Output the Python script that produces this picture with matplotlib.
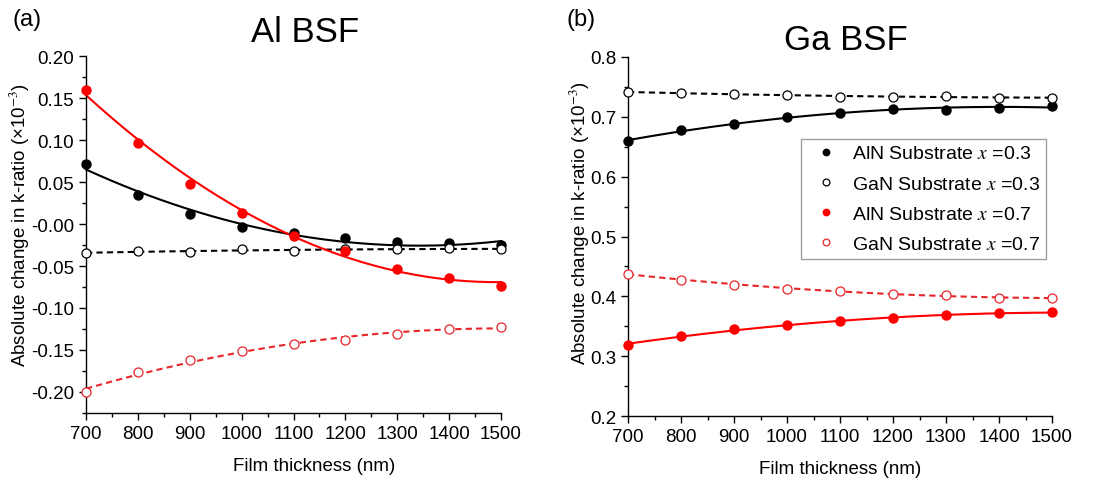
import numpy as np
import matplotlib
matplotlib.use("Agg")
import matplotlib.pyplot as plt
from matplotlib.ticker import MultipleLocator

plt.rcParams['font.family'] = ['Liberation Sans', 'DejaVu Sans']
plt.rcParams['mathtext.fontset'] = 'stix'

thickness = [700, 800, 900, 1000, 1100, 1200, 1300, 1400, 1500]

# Al BSF (panel a)
al_aln_03 = [0.071, 0.035, 0.012, -0.004, -0.011, -0.017, -0.022, -0.023, -0.025]
al_gan_03 = [-0.0345, -0.0325, -0.033, -0.030, -0.0325, -0.030, -0.030, -0.029, -0.030]
al_aln_07 = [0.160, 0.097, 0.048, 0.0135, -0.014, -0.0325, -0.054, -0.064, -0.074]
al_gan_07 = [-0.200, -0.176, -0.162, -0.151, -0.143, -0.138, -0.1305, -0.125, -0.1226]

# Ga BSF (panel b)
ga_aln_03 = [0.659, 0.678, 0.688, 0.6995, 0.7067, 0.713, 0.712, 0.715, 0.718]
ga_gan_03 = [0.741, 0.740, 0.738, 0.737, 0.7335, 0.733, 0.7345, 0.732, 0.732]
ga_aln_07 = [0.319, 0.334, 0.345, 0.352, 0.358, 0.364, 0.368, 0.372, 0.3735]
ga_gan_07 = [0.438, 0.4275, 0.419, 0.413, 0.409, 0.4035, 0.4025, 0.3975, 0.3965]

labels = [r"AlN Substrate $x$ =0.3", r"GaN Substrate $x$ =0.3",
          r"AlN Substrate $x$ =0.7", r"GaN Substrate $x$ =0.7"]

fig = plt.figure(figsize=(11.08, 4.85), dpi=100)
ax1 = fig.add_axes([86/1108, 1-414/485, (501-86)/1108, (414-57)/485])
ax2 = fig.add_axes([628/1108, 1-417/485, (1052-628)/1108, (417-58)/485])

x = np.array(thickness, dtype=float)
xs = np.linspace(700, 1500, 200)


def draw(ax, ys, color, filled, ls, label):
    y = np.array(ys)
    coef = np.polyfit(x, y, 2)
    ax.plot(xs, np.polyval(coef, xs), color=color, lw=1.5, ls=ls,
            dashes=(3, 2) if ls == '--' else (None, None), zorder=2)
    if filled:
        h = ax.plot(x, y, 'o', ms=7.5, color=color, mec=color, mew=0,
                    ls='none', label=label, zorder=3)[0]
    else:
        h = ax.plot(x, y, 'o', ms=6.5, mfc='white', mec=color, mew=0.9,
                    ls='none', label=label, zorder=3)[0]
    return h


for ax, series in ((ax1, (al_aln_03, al_gan_03, al_aln_07, al_gan_07)),
                   (ax2, (ga_aln_03, ga_gan_03, ga_aln_07, ga_gan_07))):
    hs = []
    hs.append(draw(ax, series[0], 'black', True, '-', labels[0]))
    hs.append(draw(ax, series[1], 'black', False, '--', labels[1]))
    hs.append(draw(ax, series[2], 'red', True, '-', labels[2]))
    hs.append(draw(ax, series[3], '#e8262a', False, '--', labels[3]))
    ax.set_xlim(700, 1500)
    ax.xaxis.set_major_locator(MultipleLocator(100))
    ax.xaxis.set_minor_locator(MultipleLocator(50))
    for s in ('top', 'right'):
        ax.spines[s].set_visible(False)
    for s in ('left', 'bottom'):
        ax.spines[s].set_linewidth(1.0)
    ax.tick_params(which='major', direction='out', length=5, width=1, labelsize=13.5)
    ax.tick_params(which='minor', direction='out', length=3, width=1)
    ax.set_xlabel("Film thickness (nm)", fontsize=13.5, va='center')
    ax.set_ylabel(r"Absolute change in k-ratio (×10$^{-3}$)", fontsize=13.5, va='center')
    for ln in ax.lines:
        ln.set_clip_on(False)
    if ax is ax2:
        legend_handles = hs

ax1.xaxis.set_label_coords(0.549, (414-467)/357)
ax1.yaxis.set_label_coords((20-86)/415, 0.53)
ax2.xaxis.set_label_coords(0.5, (417-469)/359)
ax2.yaxis.set_label_coords((580-628)/424, 0.54)

ax1.set_ylim(-0.225, 0.20)
ax1.yaxis.set_minor_locator(MultipleLocator(0.025))
ax1.set_yticks(np.arange(-0.20, 0.201, 0.05))
ax1.set_yticklabels([f"{v:.2f}" for v in np.arange(-0.20, 0.201, 0.05)])

ax2.set_ylim(0.2, 0.8)
ax2.yaxis.set_major_locator(MultipleLocator(0.1))
ax2.yaxis.set_minor_locator(MultipleLocator(0.05))

leg = ax2.legend(handles=legend_handles, loc='upper right',
                 bbox_to_anchor=((1046-628)/424, (417-140)/359),
                 fontsize=14, frameon=True, fancybox=False, edgecolor='#888888',
                 handlelength=2.0, handletextpad=0.35, borderpad=0.3,
                 labelspacing=0.65, markerscale=0.75, borderaxespad=0)
leg.get_frame().set_linewidth(1.0)

fig.text(305/1108, 1-33/485, "Al BSF", fontsize=25, ha='center', va='center')
fig.text(846/1108, 1-40/485, "Ga BSF", fontsize=25, ha='center', va='center')
fig.text(12/1108, 1-20/485, "(a)", fontsize=17, ha='left', va='center')
fig.text(567/1108, 1-20/485, "(b)", fontsize=17, ha='left', va='center')

fig.savefig("out.png", dpi=100)
